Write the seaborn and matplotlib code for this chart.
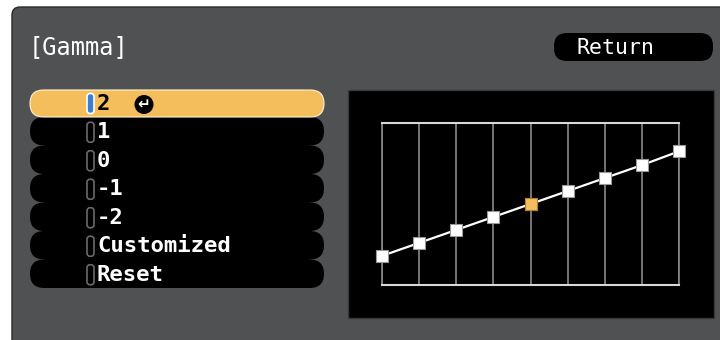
import matplotlib
matplotlib.use("Agg")
import matplotlib.pyplot as plt
import seaborn as sns
from matplotlib.patches import FancyBboxPatch, Rectangle, Circle

# Menu content
title = "[Gamma]"
button_label = "Return"
menu_items = ["2", "1", "0", "-1", "-2", "Customized", "Reset"]
selected_item = 0

curve_points = [0, 1, 2, 3, 4, 5, 6, 7, 8]
curve_levels = [18, 26, 34, 42, 50, 58, 66, 74, 82.5]
active_point = 4

panel_gray = "#505153"
orange = "#F3BE5B"

sns.set_theme(style="dark")
plt.rcParams["font.family"] = ["DejaVu Sans Mono", "DejaVu Sans"]

fig = plt.figure(figsize=(7.2, 3.4), dpi=100)
fig.patch.set_facecolor("white")

# background layer in pixel units
bg = fig.add_axes([0, 0, 1, 1])
bg.set_xlim(0, 720)
bg.set_ylim(340, 0)
bg.axis("off")

bg.add_patch(FancyBboxPatch((12, 7), 740, 360, boxstyle="round,pad=0,rounding_size=8",
                            fc=panel_gray, ec="#2a2a2a", lw=1))
bg.text(29, 47, title, color="white", fontsize=17, va="center", ha="left")

# Return button
bg.add_patch(FancyBboxPatch((554, 33), 159, 28, boxstyle="round,pad=0,rounding_size=13",
                            fc="black", ec="none"))
bg.text(615, 47.5, button_label, color="white", fontsize=15.5, va="center", ha="center")

# menu rows
row_top = 90
first_h = 27
row_h = 28.5
n_rows = len(menu_items)
# solid backing so the pills join without seams
bg.add_patch(Rectangle((45, row_top + first_h - 1), 264, (n_rows - 1) * row_h + 1,
                       fc="black", ec="none", zorder=1.5))
for idx in range(n_rows - 1, -1, -1):
    label = menu_items[idx]
    if idx == 0:
        y0, h = row_top, first_h
    else:
        y0, h = row_top + first_h + (idx - 1) * row_h, row_h
    sel = idx == selected_item
    bg.add_patch(FancyBboxPatch((30, y0), 294, h,
                                boxstyle=f"round,pad=0,rounding_size={h / 2}",
                                fc=orange if sel else "black",
                                ec="#fff3d6" if sel else "none", lw=0.8,
                                zorder=3 if sel else 2))
    yc = y0 + h / 2 + (0 if sel else 1)
    bg.add_patch(FancyBboxPatch((87, yc - 10), 7, 20, boxstyle="round,pad=0,rounding_size=3",
                                fc="#3a7fd0" if sel else "black",
                                ec="white" if sel else "#6a6a6a", lw=1.2, zorder=4))
    bg.text(97, yc, label, color="black" if sel else "white", fontsize=16,
            fontweight="bold", va="center", ha="left", zorder=5)
    if sel:
        bg.add_patch(Circle((144, yc + 1), 9.5, fc="black", ec="none", zorder=5))
        bg.text(144, yc + 1.5, "\u21b5", color="white", fontsize=11, fontweight="bold",
                family="DejaVu Sans", va="center", ha="center", zorder=6)

# black graph area
bg.add_patch(Rectangle((348, 90), 366, 228, fc="black", ec="#3a3a3a", lw=1))

# gamma graph
ax = fig.add_axes([382 / 720, 55 / 340, 297 / 720, 162 / 340])
ax.set_facecolor("black")
ax.set_xlim(curve_points[0], curve_points[-1])
ax.set_ylim(0, 100)
ax.set_xticks(curve_points)
ax.set_yticks([])
ax.grid(axis="x", color="#8a8a8a", lw=1.2)
ax.tick_params(labelbottom=False, labelleft=False, length=0)
for side in ["left", "right"]:
    ax.spines[side].set_color("#8a8a8a")
    ax.spines[side].set_linewidth(1.2)
for side in ["top", "bottom"]:
    ax.spines[side].set_color("#d8d8d8")
    ax.spines[side].set_linewidth(1.5)
    ax.spines[side].set_visible(True)

sns.lineplot(x=curve_points, y=curve_levels, ax=ax, color="white", lw=1.6,
             marker="s", markersize=8, markerfacecolor="white",
             markeredgecolor="#9a9a9a", markeredgewidth=0.8, clip_on=False, zorder=5)
sns.scatterplot(x=[curve_points[active_point]], y=[curve_levels[active_point]], ax=ax,
                marker="s", s=64, color=orange, edgecolor="#b08030", linewidth=0.8,
                clip_on=False, zorder=6)
ax.set_xlabel("")
ax.set_ylabel("")

fig.savefig("out.png", dpi=100, facecolor=fig.get_facecolor())
